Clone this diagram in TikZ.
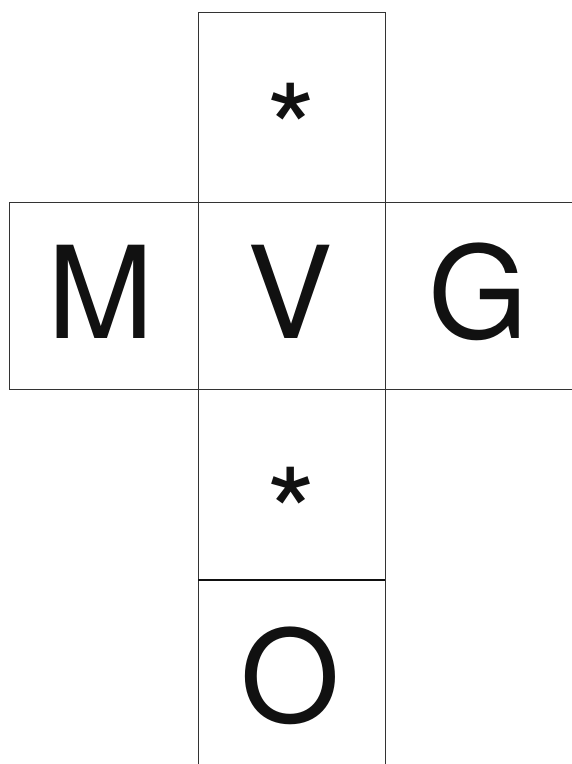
\documentclass[tikz,border=0pt]{standalone}
\usepackage{fontspec}
\setmainfont{TeX Gyre Heros}
\definecolor{lineclr}{HTML}{333333}
\definecolor{txtclr}{HTML}{111111}
\tikzset{
  cell/.style={draw=lineclr, line width=1pt, fill=none, inner sep=0pt, outer sep=0pt},
  big/.style={inner sep=0pt, anchor=base, text=txtclr, font=\fontsize{128}{128}\selectfont},
}
\begin{document}
\begin{tikzpicture}[x=1pt, y=-1pt]
\useasboundingbox (0,0) rectangle (572,764);
% boxes
\node[cell, fit/.style={}, minimum width=187pt, minimum height=190pt] (topbox) at (291.5,107) {};
\node[cell, minimum width=189pt, minimum height=187pt] (mbox) at (103.5,295.5) {};
\node[cell, minimum width=187pt, minimum height=187pt] (vbox) at (291.5,295.5) {};
\node[cell, minimum width=200pt, minimum height=187pt] (gbox) at (485,295.5) {};
\node[cell, minimum width=187pt, minimum height=191pt] (lowbox) at (291.5,484.5) {};
\node[cell, minimum width=187pt, minimum height=200pt] (obox) at (291.5,680) {};
\draw[line width=2pt, txtclr] (obox.north west) -- (obox.north east);
% letters
\node[big] (ast1) at (291.5,176) {*};
\node[big] (mtxt) at (101,338) {M};
\node[big] (vtxt) at (290,338) {V};
\node[big] (gtxt) at (478.5,338) {G};
\node[big] (ast2) at (291.5,560) {*};
\node[big] (otxt) at (290,722) {O};
\end{tikzpicture}
\end{document}
